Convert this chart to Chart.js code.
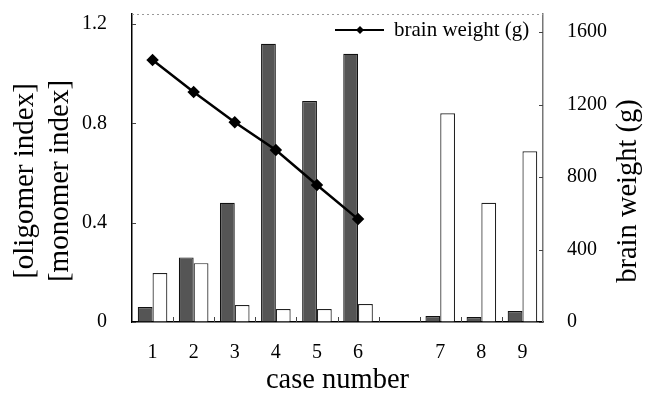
<!DOCTYPE html>
<html>
<head>
<meta charset="utf-8">
<script src="https://cdn.jsdelivr.net/npm/chart.js@4"></script>
<style>
html, body { margin: 0; padding: 0; background: #fff; }
#wrap { width: 649px; height: 395px; }
</style>
</head>
<body>
<div id="wrap"><canvas id="myChart" width="649" height="395"></canvas></div>
<script>
// categories (empty slot between 6 and 7 is the gap in the figure)
var caseLabels = ['1', '2', '3', '4', '5', '6', '', '7', '8', '9'];
// left axis series
var oligomerIndex = [0.06, 0.26, 0.48, 1.12, 0.89, 1.08, null, 0.024, 0.02, 0.044];
var monomerIndex = [0.197, 0.237, 0.068, 0.052, 0.052, 0.072, null, 0.84, 0.48, 0.687];
// right axis series
var brainWeight = [1446, 1269, 1103, 949, 756, 568, null, null, null, null];
// tick labels
var leftTicks = [0, 0.4, 0.8, 1.2];
var rightTicks = [0, 400, 800, 1200, 1600];

var serif = 'Liberation Serif';

function rotatedText(ctx, lines, x, y, size, gap) {
    ctx.save();
    ctx.translate(x, y);
    ctx.rotate(-Math.PI / 2);
    ctx.font = size + 'px "' + serif + '"';
    ctx.fillStyle = '#000';
    ctx.textAlign = 'center';
    ctx.textBaseline = 'middle';
    lines.forEach(function (t, i) { ctx.fillText(t, 0, i * gap); });
    ctx.restore();
}

// fixed box sizes, no automatic label padding
function fixBox(size, horizontal) {
    return function (s) {
        if (horizontal) s.height = size; else s.width = size;
        s.paddingTop = 0; s.paddingBottom = 0; s.paddingLeft = 0; s.paddingRight = 0;
    };
}

// border on top, inward tick marks, axis titles and the legend inside the plot
var decorations = {
    id: 'decorations',
    afterDraw: function (chart) {
        var ctx = chart.ctx;
        var a = chart.chartArea;
        var y = chart.scales.y, y2 = chart.scales.y2;
        ctx.save();

        // dotted top frame
        ctx.strokeStyle = '#999';
        ctx.lineWidth = 1;
        ctx.setLineDash([2, 3]);
        ctx.beginPath();
        ctx.moveTo(a.left, a.top + 0.5);
        ctx.lineTo(a.right, a.top + 0.5);
        ctx.stroke();
        ctx.setLineDash([]);

        // inward ticks
        ctx.strokeStyle = '#444';
        ctx.lineWidth = 1;
        leftTicks.forEach(function (v) {
            var py = Math.round(y.getPixelForValue(v)) + 0.5;
            ctx.beginPath(); ctx.moveTo(a.left, py); ctx.lineTo(a.left + 4, py); ctx.stroke();
        });
        rightTicks.forEach(function (v) {
            var py = Math.round(y2.getPixelForValue(v)) + 0.5;
            ctx.beginPath(); ctx.moveTo(a.right, py); ctx.lineTo(a.right - 4, py); ctx.stroke();
        });
        var step = (a.right - a.left) / caseLabels.length;
        for (var i = 1; i < caseLabels.length; i++) {
            var px = Math.round(a.left + i * step) + 0.5;
            ctx.beginPath(); ctx.moveTo(px, a.bottom); ctx.lineTo(px, a.bottom - 5); ctx.stroke();
        }

        // axis titles (both read bottom-to-top)
        rotatedText(ctx, ['[oligomer index]', '[monomer index]'], 25, 181, 29, 35);
        rotatedText(ctx, ['brain weight (g)'], 629, 191, 28.5, 0);

        // legend
        var ds = chart.data.datasets[0];
        var ly = 30;
        ctx.strokeStyle = ds.borderColor;
        ctx.lineWidth = 2;
        ctx.beginPath(); ctx.moveTo(335, ly); ctx.lineTo(384, ly); ctx.stroke();
        ctx.fillStyle = ds.pointBackgroundColor;
        ctx.beginPath();
        ctx.moveTo(360, ly - 4); ctx.lineTo(364, ly); ctx.lineTo(360, ly + 4); ctx.lineTo(356, ly);
        ctx.closePath(); ctx.fill();
        ctx.font = '21px "' + serif + '"';
        ctx.textBaseline = 'middle';
        ctx.textAlign = 'left';
        ctx.fillText(ds.label, 394, ly);

        ctx.restore();
    }
};

var ctx = document.getElementById('myChart').getContext('2d');
var chart = new Chart(ctx, {
    type: 'bar',
    data: {
        labels: caseLabels,
        datasets: [{
            type: 'line',
            label: 'brain weight (g)',
            data: brainWeight,
            yAxisID: 'y2',
            borderColor: '#000',
            borderWidth: 2.5,
            pointStyle: 'rectRot',
            pointRadius: 4.5,
            pointBackgroundColor: '#000',
            pointBorderColor: '#000',
            spanGaps: false,
            clip: false,
            order: 0
        }, {
            label: 'oligomer index',
            data: oligomerIndex,
            yAxisID: 'y',
            backgroundColor: '#555',
            borderColor: '#111',
            borderWidth: 1.2,
            categoryPercentage: 0.72,
            barPercentage: 1.0,
            order: 1
        }, {
            label: 'monomer index',
            data: monomerIndex,
            yAxisID: 'y',
            backgroundColor: '#fff',
            borderColor: '#222',
            borderWidth: 1.2,
            categoryPercentage: 0.72,
            barPercentage: 1.0,
            order: 1
        }]
    },
    options: {
        responsive: false,
        animation: false,
        layout: { autoPadding: false, padding: { top: 14, left: 0, right: 0, bottom: 0 } },
        plugins: {
            legend: { display: false },
            tooltip: { enabled: false }
        },
        scales: {
            x: {
                grid: { display: true, drawOnChartArea: false, drawTicks: false },
                border: { display: true, color: '#000', width: 1.5 },
                ticks: { color: '#000', font: { family: serif, size: 20 }, padding: 19, maxRotation: 0 },
                title: { display: true, text: 'case number', color: '#000', font: { family: serif, size: 28.5, lineHeight: 1 }, padding: { top: 0, bottom: 0 } },
                afterFit: fixBox(73, true)
            },
            y: {
                position: 'left',
                min: 0,
                max: 1.24,
                grid: { display: true, drawOnChartArea: false, drawTicks: false },
                border: { display: true, color: '#000', width: 1.5 },
                ticks: { color: '#000', font: { family: serif, size: 20 }, padding: 25,
                    callback: function (v) { return String(v); } },
                afterBuildTicks: function (s) { s.ticks = leftTicks.map(function (v) { return { value: v }; }); },
                afterFit: fixBox(132, false)
            },
            y2: {
                position: 'right',
                min: 0,
                max: 1700,
                grid: { display: true, drawOnChartArea: false, drawTicks: false },
                border: { display: true, color: '#777', width: 1.5 },
                ticks: { color: '#000', font: { family: serif, size: 20 }, padding: 24,
                    callback: function (v) { return String(v); } },
                afterBuildTicks: function (s) { s.ticks = rightTicks.map(function (v) { return { value: v }; }); },
                afterFit: fixBox(106, false)
            }
        }
    },
    plugins: [decorations]
});
</script>
</body>
</html>
